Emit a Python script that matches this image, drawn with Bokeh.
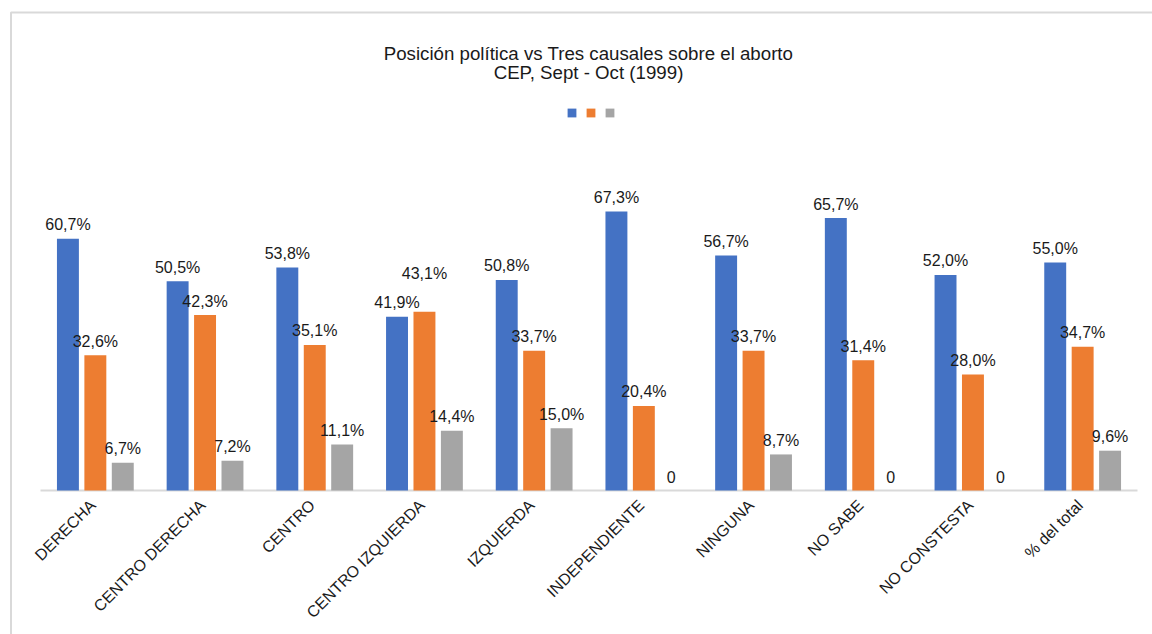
import math
from bokeh.plotting import figure
from bokeh.models import Range1d, ColumnDataSource, Legend, LegendItem
from bokeh.core.properties import value
from bokeh.embed import file_html
from bokeh.resources import INLINE

# ---------------- data ----------------
TITLE_1 = "Posición política vs Tres causales sobre el aborto"
TITLE_2 = "CEP, Sept - Oct (1999)"
CATEGORIES = ["DERECHA", "CENTRO DERECHA", "CENTRO", "CENTRO IZQUIERDA", "IZQUIERDA",
              "INDEPENDIENTE", "NINGUNA", "NO SABE", "NO CONSTESTA", "% del total"]
SERIES_1 = [60.7, 50.5, 53.8, 41.9, 50.8, 67.3, 56.7, 65.7, 52.0, 55.0]
SERIES_2 = [32.6, 42.3, 35.1, 43.1, 33.7, 20.4, 33.7, 31.4, 28.0, 34.7]
SERIES_3 = [6.7, 7.2, 11.1, 14.4, 15.0, 0.0, 8.7, 0.0, 0.0, 9.6]
SERIES = [SERIES_1, SERIES_2, SERIES_3]

# ---------------- style / layout ----------------
COLORS = ["#4472C4", "#ED7D31", "#A5A5A5"]
TEXT_COLOR = "#1a1a1a"
GRID_GRAY = "#D9D9D9"
FONT = "Liberation Sans"

W, H = 1152, 634
BAND_LEFT, BAND_RIGHT = 40, 1137
BASE_Y = 490
PX_PER_UNIT_Y = 4.146
N = len(CATEGORIES)
PX_PER_CAT = (BAND_RIGHT - BAND_LEFT) / N
X_START = -BAND_LEFT / PX_PER_CAT
X_END = (W - BAND_LEFT) / PX_PER_CAT
Y_END = BASE_Y / PX_PER_UNIT_Y
Y_START = -(H - BASE_Y) / PX_PER_UNIT_Y


def dx(px):
    return X_START + px / PX_PER_CAT


def dy(py):
    return (BASE_Y - py) / PX_PER_UNIT_Y


def fmt(v):
    if v == 0:
        return "0"
    return f"{v:.1f}".replace(".", ",") + "%"


OFFSETS = [-0.25, 0.0, 0.25]
BAR_W = 0.2
LABEL_GAP = 14
LABEL_NUDGE = {(3, 1): 24}  # (category, series) label moved up to avoid overlap
CAT_LABEL_SHIFT_X = -8.5  # px relative to category centre
CAT_LABEL_SHIFT_Y = 6     # px below the baseline

p = figure(width=W, height=H,
           x_range=Range1d(X_START, X_END), y_range=Range1d(Y_START, Y_END),
           x_axis_location=None, y_axis_location=None,
           toolbar_location=None, output_backend="svg",
           min_border=0, outline_line_color=None)
p.grid.visible = False
p.background_fill_color = "white"
p.border_fill_color = "white"

# chart-area border (top + left)
p.line(x=[dx(10.5), dx(10.5), X_END], y=[Y_START, dy(12), dy(12)],
       line_color=GRID_GRAY, line_width=2)

# category axis baseline
p.segment(x0=[0], y0=[0], x1=[N], y1=[0], line_color=GRID_GRAY, line_width=2)

renderers = []
for k, vals in enumerate(SERIES):
    xs = [i + 0.5 + OFFSETS[k] for i in range(N)]
    yoff = [-(LABEL_GAP + LABEL_NUDGE.get((i, k), 0)) for i in range(N)]
    src = ColumnDataSource(dict(x=xs, top=vals, label=[fmt(v) for v in vals], yoff=yoff))
    r = p.vbar(x="x", top="top", bottom=0, width=BAR_W, source=src,
               fill_color=COLORS[k], line_color=None)
    renderers.append(r)
    p.text(x="x", y="top", text="label", source=src, y_offset="yoff",
           text_align="center", text_baseline="alphabetic",
           text_font=value(FONT), text_font_size="16px", text_color=TEXT_COLOR)

# category labels (rotated), anchored in data space just under the baseline
cat_src = ColumnDataSource(dict(
    x=[i + 0.5 + CAT_LABEL_SHIFT_X / PX_PER_CAT for i in range(N)],
    y=[-CAT_LABEL_SHIFT_Y / PX_PER_UNIT_Y] * N,
    t=CATEGORIES))
p.text(x="x", y="y", text="t", source=cat_src, angle=math.pi / 4,
       text_align="right", text_baseline="top",
       text_font=value(FONT), text_font_size="16px", text_color=TEXT_COLOR)

# title
p.text(x=[dx(588), dx(588)], y=[dy(53), dy(72)], text=[TITLE_1, TITLE_2],
       text_align="center", text_baseline="alphabetic",
       text_font=value(FONT), text_font_size="18.7px", text_color=TEXT_COLOR)

# legend (markers only, no names)
legend = Legend(items=[LegendItem(label=value(" "), renderers=[r]) for r in renderers],
                orientation="horizontal", location=(566, 516),
                glyph_width=11, glyph_height=11, label_standoff=0, label_width=0,
                label_height=11, label_text_font_size="1px", spacing=8,
                padding=0, margin=0, border_line_color=None,
                background_fill_alpha=0)
p.add_layout(legend)

open("out.html", "w").write(file_html(p, INLINE))
